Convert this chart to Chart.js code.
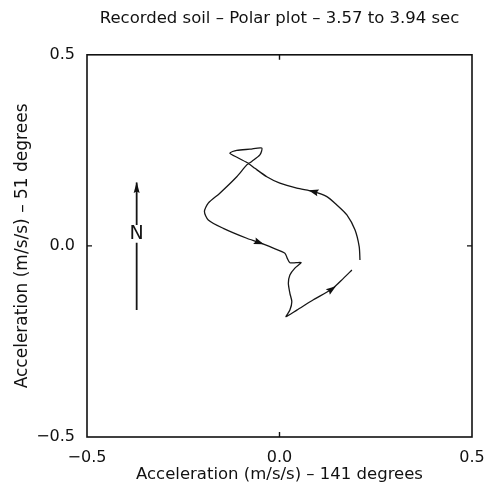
<!DOCTYPE html>
<html><head><meta charset="utf-8">
<script src="https://cdn.jsdelivr.net/npm/chart.js@4/dist/chart.umd.min.js"></script>
<style>html,body{margin:0;padding:0;background:#fff}</style>
</head><body>
<canvas id="c" width="485" height="488" style="display:block;width:485px;height:488px"></canvas>
<script>
const titleText = 'Recorded soil – Polar plot – 3.57 to 3.94 sec';
const xTitle = 'Acceleration (m/s/s) – 141 degrees';
const yTitle = 'Acceleration (m/s/s) – 51 degrees';
const tickValues = [-0.5, 0, 0.5];
const tickLabels = ['−0.5', '0.0', '0.5'];

// trajectory (x = 141 deg component, y = 51 deg component)
const pathX = [0.209, 0.207, 0.196, 0.175, 0.149, 0.123, 0.088, 0.045, 0.001, -0.033,
  -0.064, -0.081, -0.107, -0.129, -0.111, -0.077, -0.046, -0.051, -0.072, -0.085,
  -0.111, -0.155, -0.185, -0.195, -0.185, -0.146, -0.085, -0.053, -0.016, 0.014,
  0.020, 0.027, 0.043, 0.056, 0.040, 0.027, 0.023, 0.027, 0.032, 0.027,
  0.017, 0.045, 0.088, 0.136, 0.166, 0.188];
const pathY = [-0.037, -0.002, 0.042, 0.081, 0.107, 0.129, 0.142, 0.151, 0.164, 0.181,
  0.203, 0.216, 0.230, 0.243, 0.250, 0.253, 0.256, 0.238, 0.221, 0.212,
  0.181, 0.138, 0.112, 0.090, 0.068, 0.046, 0.020, 0.009, -0.006, -0.019,
  -0.032, -0.044, -0.044, -0.044, -0.058, -0.076, -0.098, -0.124, -0.146, -0.168,
  -0.185, -0.168, -0.141, -0.113, -0.085, -0.063];
const arrowIdx = [6, 27, 43];

// north arrow
const northX = -0.371;
const northLowerY = [-0.168, 0.008];
const northUpperY = [0.055, 0.166];
const northLabel = 'N';
const northLabelY = 0.032;

const FONT = '"DejaVu Sans", "Liberation Sans", sans-serif';

function drawHead(ctx, x, y, ang, L, W) {
  const c = Math.cos(ang), s = Math.sin(ang);
  const tx = x + c * L / 2, ty = y + s * L / 2;
  const bx = x - c * L / 2, by = y - s * L / 2;
  ctx.beginPath();
  ctx.moveTo(tx, ty);
  ctx.lineTo(bx - s * W, by + c * W);
  ctx.lineTo(bx + c * 1.5, by + s * 1.5);
  ctx.lineTo(bx + s * W, by - c * W);
  ctx.closePath();
  ctx.fill();
}

const deco = {
  id: 'deco',
  afterDatasetsDraw(chart) {
    const {ctx, chartArea: a, scales: {x, y}} = chart;
    ctx.save();
    ctx.strokeStyle = '#111';
    ctx.fillStyle = '#111';
    ctx.lineWidth = 1.6;
    ctx.strokeRect(a.left, a.top, a.right - a.left, a.bottom - a.top);
    const x0 = x.getPixelForValue(0), y0 = y.getPixelForValue(0);
    ctx.lineWidth = 1.4;
    ctx.beginPath();
    ctx.moveTo(x0, a.top); ctx.lineTo(x0, a.top + 5);
    ctx.moveTo(x0, a.bottom); ctx.lineTo(x0, a.bottom - 5);
    ctx.moveTo(a.left, y0); ctx.lineTo(a.left + 5, y0);
    ctx.moveTo(a.right, y0); ctx.lineTo(a.right - 5, y0);
    ctx.stroke();
    const pts = chart.getDatasetMeta(0).data;
    arrowIdx.forEach(i => {
      const p0 = pts[i - 1], p1 = pts[i], p2 = pts[i + 1];
      const ang = Math.atan2(p2.y - p0.y, p2.x - p0.x);
      drawHead(ctx, p1.x, p1.y, ang, 10, 3.5);
    });
    const nx = x.getPixelForValue(northX);
    const ny = y.getPixelForValue(northUpperY[1]);
    drawHead(ctx, nx, ny + 5, -Math.PI / 2, 11, 3);
    ctx.font = '19px ' + FONT;
    ctx.textAlign = 'center';
    ctx.textBaseline = 'middle';
    ctx.fillText(northLabel, nx, y.getPixelForValue(northLabelY));
    ctx.restore();
  }
};

const pathData = pathX.map((v, i) => ({x: v, y: pathY[i]}));
const northData = [
  {x: northX, y: northLowerY[0]}, {x: northX, y: northLowerY[1]},
  {x: northX, y: null},
  {x: northX, y: northUpperY[0]}, {x: northX, y: northUpperY[1]}
];

const tickCb = v => {
  const k = tickValues.findIndex(t => Math.abs(t - v) < 1e-9);
  return k >= 0 ? tickLabels[k] : '';
};

new Chart(document.getElementById('c'), {
  type: 'scatter',
  data: {
    datasets: [
      {data: pathData, showLine: true, borderColor: '#161616', borderWidth: 1.3,
       pointRadius: 0, tension: 0.25, fill: false},
      {data: northData, showLine: true, borderColor: '#161616', borderWidth: 1.8,
       pointRadius: 0, spanGaps: false, fill: false}
    ]
  },
  options: {
    responsive: false,
    animation: false,
    devicePixelRatio: 1,
    layout: {padding: {left: 0, right: 13, top: 0, bottom: 0}},
    plugins: {
      legend: {display: false},
      tooltip: {enabled: false},
      title: {display: true, text: titleText, color: '#111', fullSize: false,
        font: {family: FONT, size: 16.5, weight: 'normal'},
        padding: {top: 9, bottom: 26}}
    },
    scales: {
      x: {
        type: 'linear', min: -0.5, max: 0.5,
        grid: {display: false}, border: {display: false},
        ticks: {stepSize: 0.5, callback: tickCb, color: '#111', padding: 3,
          maxRotation: 0, autoSkip: false, font: {family: FONT, size: 16}},
        title: {display: true, text: xTitle, color: '#111',
          font: {family: FONT, size: 16.5}, padding: {top: 0, bottom: 3}},
        afterFit(s) { s.height = 51; s.paddingRight = 0; s.paddingLeft = 0; }
      },
      y: {
        type: 'linear', min: -0.5, max: 0.5,
        grid: {display: false}, border: {display: false},
        ticks: {stepSize: 0.5, callback: tickCb, color: '#111', padding: 4,
          autoSkip: false, font: {family: FONT, size: 16}},
        title: {display: true, text: yTitle, color: '#111',
          font: {family: FONT, size: 17}, padding: {top: 12, bottom: 0}},
        afterFit(s) { s.width = 87; s.paddingTop = 0; s.paddingBottom = 0; }
      }
    }
  },
  plugins: [deco]
});
</script>
</body></html>
